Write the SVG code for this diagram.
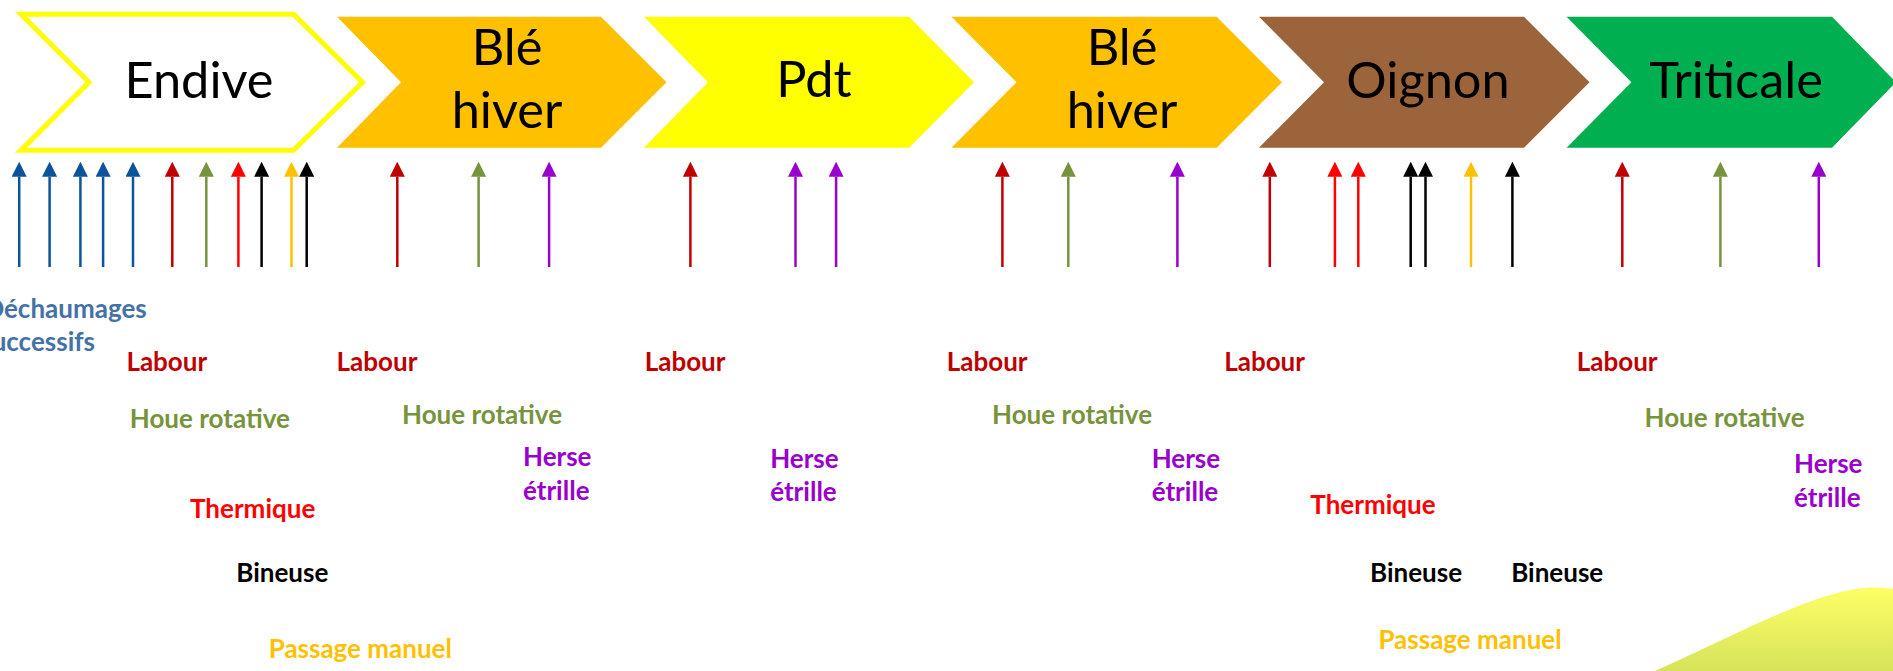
<svg xmlns="http://www.w3.org/2000/svg" width="1893" height="671" viewBox="0 0 1893 671">
<defs>
<style>
.crop{font-family:Lato,"Open Sans","Liberation Sans",sans-serif;font-size:50.5px;fill:#000;text-anchor:middle}
.lbl{font-family:Lato,"Open Sans","Liberation Sans",sans-serif;font-size:26px;font-weight:bold}
.ar{stroke-width:2.5;fill:none}
.labour{fill:#C00000}.houe{fill:#77933C}.herse{fill:#9900CC}.therm{fill:#FF0000}.bin{fill:#000}.pass{fill:#FFC000}.dech{fill:#4472A6}
</style>
<linearGradient id="blob" x1="0" y1="0" x2="0" y2="1">
<stop offset="0" stop-color="#FFFF66"/>
<stop offset="1" stop-color="#D6E35A"/>
</linearGradient>
<marker id="mBlue" markerUnits="userSpaceOnUse" markerWidth="15" markerHeight="15" viewBox="0 0 15 15" refX="0" refY="7.5" orient="auto"><path d="M0,0L15,7.5L0,15Z" fill="#0B539A"/></marker>
<marker id="mDred" markerUnits="userSpaceOnUse" markerWidth="15" markerHeight="15" viewBox="0 0 15 15" refX="0" refY="7.5" orient="auto"><path d="M0,0L15,7.5L0,15Z" fill="#C00000"/></marker>
<marker id="mOlive" markerUnits="userSpaceOnUse" markerWidth="15" markerHeight="15" viewBox="0 0 15 15" refX="0" refY="7.5" orient="auto"><path d="M0,0L15,7.5L0,15Z" fill="#77933C"/></marker>
<marker id="mRed" markerUnits="userSpaceOnUse" markerWidth="15" markerHeight="15" viewBox="0 0 15 15" refX="0" refY="7.5" orient="auto"><path d="M0,0L15,7.5L0,15Z" fill="#FF0000"/></marker>
<marker id="mBlack" markerUnits="userSpaceOnUse" markerWidth="15" markerHeight="15" viewBox="0 0 15 15" refX="0" refY="7.5" orient="auto"><path d="M0,0L15,7.5L0,15Z" fill="#000000"/></marker>
<marker id="mGold" markerUnits="userSpaceOnUse" markerWidth="15" markerHeight="15" viewBox="0 0 15 15" refX="0" refY="7.5" orient="auto"><path d="M0,0L15,7.5L0,15Z" fill="#FFC000"/></marker>
<marker id="mPurple" markerUnits="userSpaceOnUse" markerWidth="15" markerHeight="15" viewBox="0 0 15 15" refX="0" refY="7.5" orient="auto"><path d="M0,0L15,7.5L0,15Z" fill="#9900CC"/></marker>
</defs>
<rect width="1893" height="671" fill="#FFFFFF"/>
<path d="M1655,671 C1740,633 1820,588 1873,587.5 C1883,587.5 1893,588.5 1893,589 L1893,671 Z" fill="url(#blob)"/>

<g id="endive">
<path d="M21,14.2 L293.5,14.2 L362.5,82.3 L293.5,150.2 L21,150.2 L89,82.3 Z" fill="#FFFFFF" stroke="#FFFF00" stroke-width="5" stroke-miterlimit="10"/>
<text class="crop" x="199" y="98.3">Endive</text>
</g>
<g id="ble-hiver-1">
<path d="M337,16.7 L601,16.7 L666.5,82.3 L601,147.7 L337,147.7 L401,82.3 Z" fill="#FFC000"/>
<text class="crop" x="507" y="65">Blé</text>
<text class="crop" x="507" y="128.3">hiver</text>
</g>
<g id="pdt">
<path d="M644,16.7 L909,16.7 L974,82.3 L909,147.7 L644,147.7 L708,82.3 Z" fill="#FFFF00"/>
<text class="crop" x="814" y="97.3">Pdt</text>
</g>
<g id="ble-hiver-2">
<path d="M951.4,16.7 L1216.7,16.7 L1282,82.3 L1216.7,147.7 L951.4,147.7 L1016.5,82.3 Z" fill="#FFC000"/>
<text class="crop" x="1122" y="65">Blé</text>
<text class="crop" x="1122" y="128.3">hiver</text>
</g>
<g id="oignon">
<path d="M1259,16.7 L1524,16.7 L1589.5,82.3 L1524,147.7 L1259,147.7 L1324,82.3 Z" fill="#9B643A"/>
<text class="crop" x="1428" y="98">Oignon</text>
</g>
<g id="triticale">
<path d="M1566.6,16.7 L1832,16.7 L1896,82.3 L1832,147.7 L1566.6,147.7 L1631.4,82.3 Z" fill="#00B050"/>
<text class="crop" x="1736" y="98">Triticale</text>
</g>

<g id="connectors" class="ar">
<line x1="19.2" y1="267" x2="19.2" y2="176.7" stroke="#0B539A" marker-end="url(#mBlue)"/>
<line x1="49.6" y1="267" x2="49.6" y2="176.7" stroke="#0B539A" marker-end="url(#mBlue)"/>
<line x1="80.4" y1="267" x2="80.4" y2="176.7" stroke="#0B539A" marker-end="url(#mBlue)"/>
<line x1="103.1" y1="267" x2="103.1" y2="176.7" stroke="#0B539A" marker-end="url(#mBlue)"/>
<line x1="133" y1="267" x2="133" y2="176.7" stroke="#0B539A" marker-end="url(#mBlue)"/>
<line x1="172.3" y1="267" x2="172.3" y2="176.7" stroke="#C00000" marker-end="url(#mDred)"/>
<line x1="206.3" y1="267" x2="206.3" y2="176.7" stroke="#77933C" marker-end="url(#mOlive)"/>
<line x1="238.4" y1="267" x2="238.4" y2="176.7" stroke="#FF0000" marker-end="url(#mRed)"/>
<line x1="261.6" y1="267" x2="261.6" y2="176.7" stroke="#000000" marker-end="url(#mBlack)"/>
<line x1="291.5" y1="267" x2="291.5" y2="176.7" stroke="#FFC000" marker-end="url(#mGold)"/>
<line x1="306.7" y1="267" x2="306.7" y2="176.7" stroke="#000000" marker-end="url(#mBlack)"/>
<line x1="397.3" y1="267" x2="397.3" y2="176.7" stroke="#C00000" marker-end="url(#mDred)"/>
<line x1="478.6" y1="267" x2="478.6" y2="176.7" stroke="#77933C" marker-end="url(#mOlive)"/>
<line x1="549.1" y1="267" x2="549.1" y2="176.7" stroke="#9900CC" marker-end="url(#mPurple)"/>
<line x1="690.4" y1="267" x2="690.4" y2="176.7" stroke="#C00000" marker-end="url(#mDred)"/>
<line x1="795.5" y1="267" x2="795.5" y2="176.7" stroke="#9900CC" marker-end="url(#mPurple)"/>
<line x1="836.1" y1="267" x2="836.1" y2="176.7" stroke="#9900CC" marker-end="url(#mPurple)"/>
<line x1="1002.4" y1="267" x2="1002.4" y2="176.7" stroke="#C00000" marker-end="url(#mDred)"/>
<line x1="1068.3" y1="267" x2="1068.3" y2="176.7" stroke="#77933C" marker-end="url(#mOlive)"/>
<line x1="1177.4" y1="267" x2="1177.4" y2="176.7" stroke="#9900CC" marker-end="url(#mPurple)"/>
<line x1="1269.8" y1="267" x2="1269.8" y2="176.7" stroke="#C00000" marker-end="url(#mDred)"/>
<line x1="1334.9" y1="267" x2="1334.9" y2="176.7" stroke="#FF0000" marker-end="url(#mRed)"/>
<line x1="1358.3" y1="267" x2="1358.3" y2="176.7" stroke="#FF0000" marker-end="url(#mRed)"/>
<line x1="1410.7" y1="267" x2="1410.7" y2="176.7" stroke="#000000" marker-end="url(#mBlack)"/>
<line x1="1425.5" y1="267" x2="1425.5" y2="176.7" stroke="#000000" marker-end="url(#mBlack)"/>
<line x1="1471" y1="267" x2="1471" y2="176.7" stroke="#FFC000" marker-end="url(#mGold)"/>
<line x1="1512.4" y1="267" x2="1512.4" y2="176.7" stroke="#000000" marker-end="url(#mBlack)"/>
<line x1="1622.3" y1="267" x2="1622.3" y2="176.7" stroke="#C00000" marker-end="url(#mDred)"/>
<line x1="1720.4" y1="267" x2="1720.4" y2="176.7" stroke="#77933C" marker-end="url(#mOlive)"/>
<line x1="1818.8" y1="267" x2="1818.8" y2="176.7" stroke="#9900CC" marker-end="url(#mPurple)"/>
</g>

<g id="labels" class="lbl">
<text class="dech" x="146.7" y="318.3" text-anchor="end">Déchaumages</text>
<text class="dech" x="95" y="351" text-anchor="end">successifs</text>
<text class="labour" x="126.4" y="370.7">Labour</text>
<text class="labour" x="336.6" y="370.7">Labour</text>
<text class="labour" x="644.7" y="370.7">Labour</text>
<text class="labour" x="946.8" y="370.7">Labour</text>
<text class="labour" x="1224.2" y="370.7">Labour</text>
<text class="labour" x="1576.8" y="370.7">Labour</text>
<text class="houe" x="129.8" y="427.5">Houe rotative</text>
<text class="houe" x="402" y="424">Houe rotative</text>
<text class="houe" x="992" y="424">Houe rotative</text>
<text class="houe" x="1644.5" y="426.7">Houe rotative</text>
<text class="herse" x="523" y="465.7">Herse</text>
<text class="herse" x="523" y="500">étrille</text>
<text class="herse" x="770.2" y="468.3">Herse</text>
<text class="herse" x="770.2" y="500.7">étrille</text>
<text class="herse" x="1151.7" y="468.3">Herse</text>
<text class="herse" x="1151.7" y="500.7">étrille</text>
<text class="herse" x="1794" y="472.7">Herse</text>
<text class="herse" x="1794" y="506.7">étrille</text>
<text class="therm" x="190" y="518">Thermique</text>
<text class="therm" x="1310.3" y="514.3">Thermique</text>
<text class="bin" x="236.3" y="582.3">Bineuse</text>
<text class="bin" x="1370" y="582.3">Bineuse</text>
<text class="bin" x="1511.2" y="582.3">Bineuse</text>
<text class="pass" x="268.7" y="657.5">Passage manuel</text>
<text class="pass" x="1378.4" y="649.3">Passage manuel</text>
</g>
</svg>
